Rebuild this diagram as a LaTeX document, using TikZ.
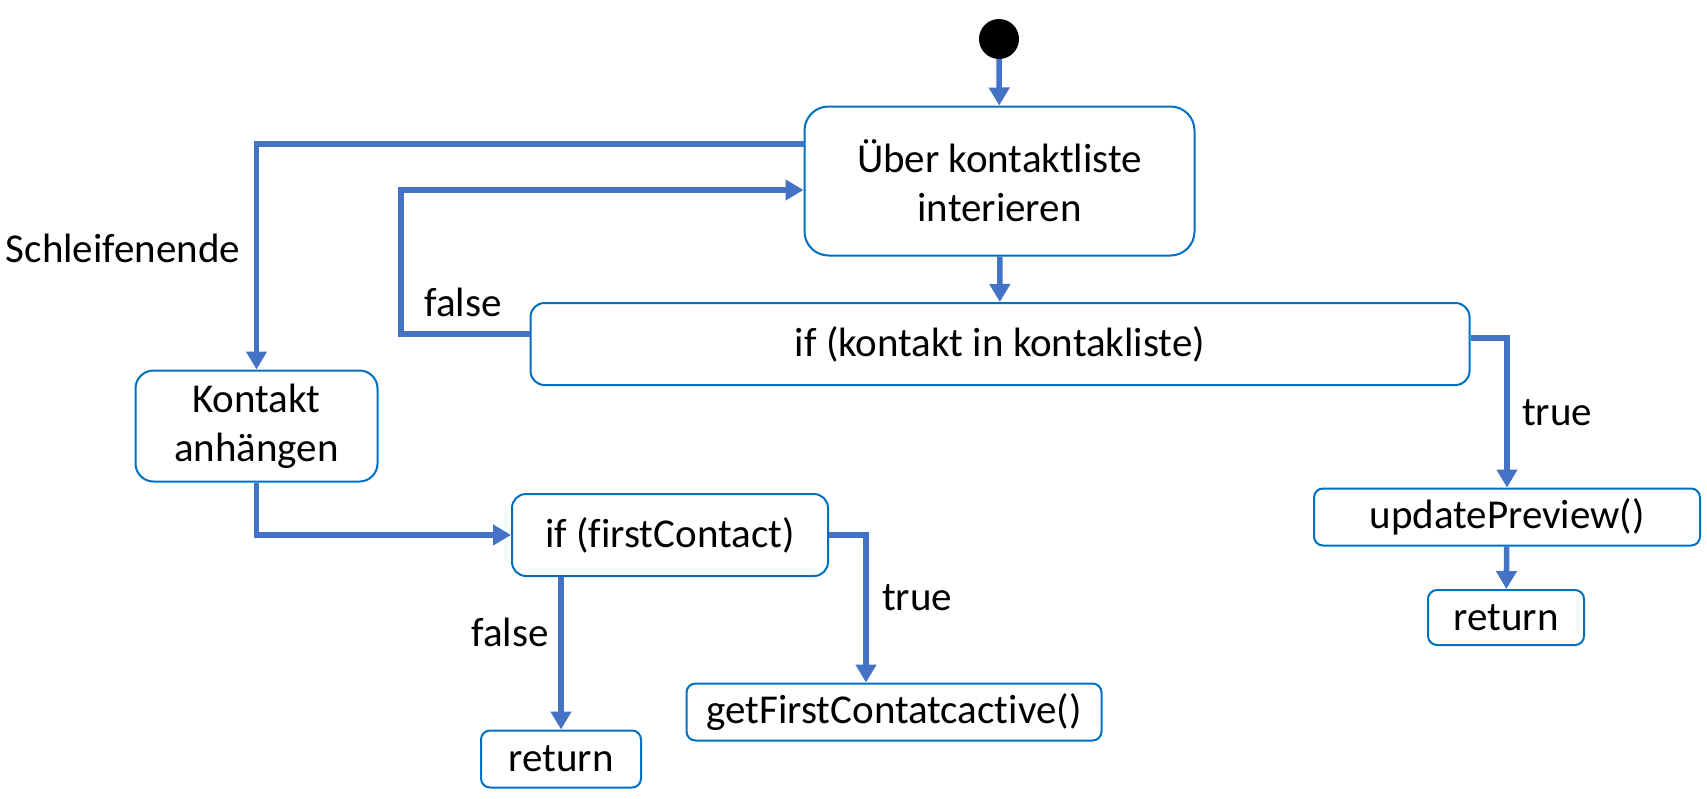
\documentclass[tikz,border=0pt]{standalone}
\usepackage{fontspec}
\setmainfont{Carlito}[Ligatures=NoCommon]
\usepackage{tikz}
\usepackage{xcolor}
\usetikzlibrary{arrows.meta}

\definecolor{flowblue}{HTML}{4472C4}
\definecolor{boxblue}{HTML}{0070C0}

\begin{document}
\begin{tikzpicture}[x=1pt,y=-1pt,font=\fontsize{41}{49}\selectfont,
	box/.style={draw=boxblue,line width=2pt,rounded corners=#1,align=center,inner sep=0pt},
	box/.default=9pt,
	flow/.style={draw=flowblue,line width=5.5pt,-{Triangle[width=20pt,length=18pt]}}]
		\useasboundingbox (0,0) rectangle (1707,798);

		% Draw start and the activities
		\node[circle,fill=black,minimum size=40pt,inner sep=0pt] (start) at (999,39) {};
		\node[box=24pt,minimum width=390pt,minimum height=149pt] (ueber) at (999.5,181) {Über kontaktliste\\interieren};
		\node[box=14pt,minimum width=939pt,minimum height=82pt] (ifkl) at (1000,344) {if (kontakt in kontakliste)};
		\node[box=18pt,minimum width=242pt,minimum height=111pt] (kontakt) at (256.5,426) {Kontakt\\anhängen};
		\node[box=14pt,minimum width=316pt,minimum height=82pt] (iffirst) at (670,535) {if (firstContact)};
		\node[box,minimum width=160pt,minimum height=57pt] (return1) at (561,759) {return};
		\node[box,minimum width=415pt,minimum height=57pt] (getfirst) at (894,712) {getFirstContatcactive()};
		\node[box,minimum width=386pt,minimum height=57pt] (update) at (1507,517) {updatePreview()};
		\node[box,minimum width=156pt,minimum height=55pt] (return2) at (1506,617.5) {return};

		% Draw the arrows
		\draw[flow] (start) -- (ueber);
		\draw[flow] (ueber) -- (ifkl);
		\draw[flow] (ueber.west |- 0,144) -| (kontakt.north);
		\draw[flow] (ifkl.west |- 0,334) -| (401,190) -- (ueber.west |- 0,190);
		\draw[flow] (ifkl.east |- 0,338) -| (update.north);
		\draw[flow] (update) -- (return2);
		\draw[flow] (kontakt.south) |- (iffirst.west);
		\draw[flow] (iffirst.east) -| ([xshift=-28pt]getfirst.north);
		\draw[flow] (return1.north |- iffirst.south) -- (return1.north);

		% Add labels
		\node (lblend) at (123,248) {Schleifenende};
		\node (lblfalse1) at (463,302) {false};
		\node (lbltrue1) at (1557,413) {true};
		\node (lbltrue2) at (917,598) {true};
		\node (lblfalse2) at (510,632) {false};
\end{tikzpicture}
\end{document}
